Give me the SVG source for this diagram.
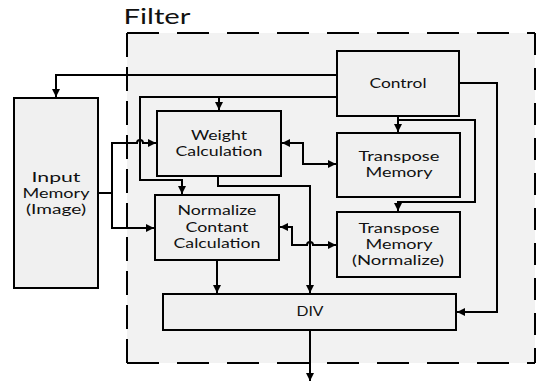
<svg xmlns="http://www.w3.org/2000/svg" width="537" height="382" viewBox="0 0 537 382">
<style>
.box{fill:#f0f0f0;stroke:#000;stroke-width:2}
.t{font-family:Lato,"Liberation Sans",sans-serif;font-size:13px;fill:#111;text-anchor:middle}
.c{fill:none;stroke:#000;stroke-width:2}
.a{marker-end:url(#ah)}
.b{marker-start:url(#ah);marker-end:url(#ah)}
.fb{fill:none;stroke:#000;stroke-width:2}
</style>
<defs>
<marker id="ah" viewBox="0 0 10 10" refX="10" refY="5" markerUnits="userSpaceOnUse" markerWidth="9" markerHeight="8" orient="auto-start-reverse">
<path d="M0,0 L10,5 L0,10 z" fill="#000"/>
</marker>
</defs>
<rect width="537" height="382" fill="#fff"/>
<g id="filter">
<rect x="127" y="33" width="408" height="330" fill="#f2f2f2"/>
<line class="fb" x1="127" y1="33" x2="535" y2="33" stroke-dasharray="32 18"/>
<line class="fb" x1="127" y1="363" x2="535" y2="363" stroke-dasharray="32 18"/>
<line class="fb" x1="127" y1="33" x2="127" y2="363" stroke-dasharray="24 10"/>
<line class="fb" x1="535" y1="33" x2="535" y2="363" stroke-width="3" stroke-dasharray="22 13"/>
<text x="157" y="24" font-family="Lato,'Liberation Sans',sans-serif" font-size="21" fill="#111" text-anchor="middle" textLength="67" lengthAdjust="spacingAndGlyphs">Filter</text>
</g>
<g id="connectors">
<path class="c a" d="M337,75 H56 V97"/>
<path class="c" d="M337,97 H140 V180 H182"/>
<path class="c a" d="M182,179 V194"/>
<path class="c a" d="M219,97 V110"/>
<path class="c a" d="M98,193 H112 V143 H137 a3,3 0 0 1 6,0 H156"/>
<path class="c a" d="M112,193 V228 H154"/>
<path class="c b" d="M282,143 H303 V164 H336"/>
<path class="c b" d="M280,227 H292 V245 H307 a3,3 0 0 1 6,0 H336"/>
<path class="c a" d="M218,176 V186 H310 V293"/>
<path class="c a" d="M217,260 V293"/>
<path class="c a" d="M398,116 V132"/>
<path class="c a" d="M398,120 H475 V202 H398 V211"/>
<path class="c a" d="M459,83 H497 V312 H457"/>
<path class="c a" d="M310,330 V381"/>
</g>
<g id="input-memory">
<rect class="box" x="14" y="98" width="84" height="190"/>
<text class="t" x="56" y="182" textLength="49" lengthAdjust="spacingAndGlyphs">Input</text>
<text class="t" x="56" y="198" textLength="67" lengthAdjust="spacingAndGlyphs">Memory</text>
<text class="t" x="56" y="213.5" textLength="60" lengthAdjust="spacingAndGlyphs">(Image)</text>
</g>
<g id="control">
<rect class="box" x="337" y="51" width="122" height="65"/>
<text class="t" x="398" y="88" textLength="57" lengthAdjust="spacingAndGlyphs">Control</text>
</g>
<g id="weight-calculation">
<rect class="box" x="157" y="111" width="124" height="65"/>
<text class="t" x="219" y="139.5" textLength="56" lengthAdjust="spacingAndGlyphs">Weight</text>
<text class="t" x="219" y="156" textLength="87" lengthAdjust="spacingAndGlyphs">Calculation</text>
</g>
<g id="transpose-memory">
<rect class="box" x="337" y="133" width="123" height="64"/>
<text class="t" x="399" y="161" textLength="81" lengthAdjust="spacingAndGlyphs">Transpose</text>
<text class="t" x="399" y="177" textLength="67" lengthAdjust="spacingAndGlyphs">Memory</text>
</g>
<g id="normalize-calculation">
<rect class="box" x="155" y="195" width="124" height="65"/>
<text class="t" x="217" y="215" textLength="79" lengthAdjust="spacingAndGlyphs">Normalize</text>
<text class="t" x="217" y="231.5" textLength="63" lengthAdjust="spacingAndGlyphs">Contant</text>
<text class="t" x="217" y="248" textLength="87" lengthAdjust="spacingAndGlyphs">Calculation</text>
</g>
<g id="transpose-memory-normalize">
<rect class="box" x="337" y="212" width="123" height="65"/>
<text class="t" x="399" y="233" textLength="81" lengthAdjust="spacingAndGlyphs">Transpose</text>
<text class="t" x="399" y="249" textLength="67" lengthAdjust="spacingAndGlyphs">Memory</text>
<text class="t" x="398" y="265" textLength="92" lengthAdjust="spacingAndGlyphs">(Normalize)</text>
</g>
<g id="div">
<rect class="box" x="163" y="294" width="293" height="36"/>
<text class="t" x="310" y="316" textLength="27" lengthAdjust="spacingAndGlyphs">DIV</text>
</g>
</svg>
